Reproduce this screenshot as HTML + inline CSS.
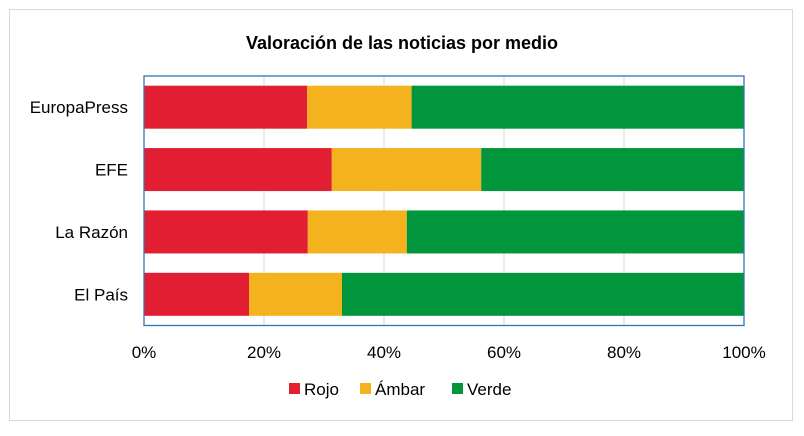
<!DOCTYPE html>
<html><head><meta charset="utf-8"><style>
body{margin:0;background:#fff;font-family:"Liberation Sans",sans-serif;}
#wrap{position:relative;width:804px;height:431px;}
</style></head><body>
<div id="wrap">
<svg id="chart" width="804" height="431" xmlns="http://www.w3.org/2000/svg">
<rect x="9.5" y="9.5" width="783" height="411" fill="#fff" stroke="#d9d9d9"/>
<text x="402" y="49" text-anchor="middle" font-size="18" font-weight="bold" fill="#000">Valoración de las noticias por medio</text>
<g id="grid"></g><g id="bars"></g><g id="ylabels"></g><g id="xlabels"></g>
<rect x="144" y="76" width="600" height="249.5" fill="none" stroke="#2e75b6" stroke-width="1.3"/>
<g>
<rect x="289" y="383" width="11" height="11" fill="#e11e32"/>
<text x="304" y="395" font-size="17">Rojo</text>
<rect x="360" y="383" width="11" height="11" fill="#f5b21f"/>
<text x="375" y="395" font-size="17">Ámbar</text>
<rect x="452" y="383" width="11" height="11" fill="#01963c"/>
<text x="467" y="395" font-size="17">Verde</text>
</g>
</svg>
</div>
<script>
const categories = ["EuropaPress","EFE","La Razón","El País"];
const rojo = [27.2, 31.3, 27.3, 17.5];
const ambar = [17.4, 24.9, 16.5, 15.5];
const verde = [55.4, 43.8, 56.2, 67.0];
const ticks = ["0%","20%","40%","60%","80%","100%"];
const tickVals = [0,20,40,60,80,100];
const NS="http://www.w3.org/2000/svg";
const X0=144,W=600,Y0=76,H=249.5;
const band=H/categories.length, bh=43;
const x=v=>X0+v/100*W;
const yc=i=>Y0+band*(i+0.5);
function mk(t,a,p){const e=document.createElementNS(NS,t);for(const k in a)e.setAttribute(k,a[k]);p.appendChild(e);return e;}
const grid=document.getElementById('grid'),bars=document.getElementById('bars'),yl=document.getElementById('ylabels'),xl=document.getElementById('xlabels');
tickVals.forEach((v,i)=>{
 const l=mk('line',{x1:x(v),x2:x(v),y1:Y0,y2:Y0+H,stroke:'#d9d9d9','stroke-width':1},grid);
 
 
 const t=mk('text',{x:x(v),y:358,'text-anchor':'middle','font-size':17},xl);
 t.textContent=ticks[i];
 
 
});
const series=[[rojo,'#e11e32','rojo'],[ambar,'#f5b21f','ambar'],[verde,'#01963c','verde']];
categories.forEach((c,i)=>{
 let acc=0;
 series.forEach(([arr,col,n])=>{
  const r=mk('rect',{x:x(acc),y:yc(i)-bh/2,width:x(acc+arr[i])-x(acc),height:bh,fill:col},bars);
  
  
  acc+=arr[i];
 });
 const t=mk('text',{x:128,y:yc(i)+6,'text-anchor':'end','font-size':17},yl);
 t.textContent=c;
 
 
});
</script>
</body></html>
